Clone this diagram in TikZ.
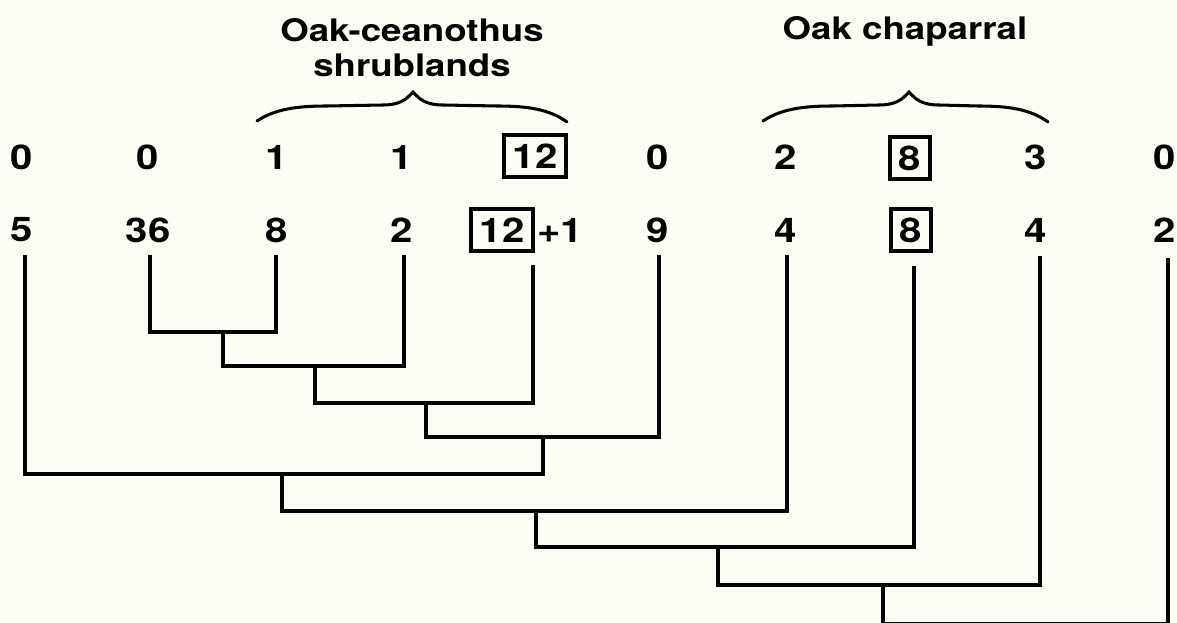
\documentclass[tikz,border=0pt]{standalone}
\usepackage{fontspec}
\setmainfont[FakeStretch=1.18]{TeX Gyre Heros}
\usetikzlibrary{positioning}

\definecolor{paper}{RGB}{253,253,246}

\tikzset{
  lbl/.style={font=\bfseries\fontsize{29}{34}\selectfont,inner sep=0pt},
  boxed/.style={lbl,draw,line width=3pt,inner sep=7.5pt},
  ttl/.style={font=\bfseries\fontsize{26.5}{30}\selectfont,align=center},
  tree/.style={line width=3.4pt},
  brc/.style={line width=2.6pt,line cap=round},
}

\begin{document}
\begin{tikzpicture}[x=0.03cm,y=-0.03cm]
  \fill[paper] (0,0) rectangle (1177,623);
  \useasboundingbox (0,0) rectangle (1177,623);
  % group labels and braces
  \node[ttl] (oc) at (412,48) {Oak-ceanothus\\shrublands};
  \node[ttl] (ch) at (905,31) {Oak chaparral};
  \foreach \a/\m/\b in {257/413/567,763/909/1048}{
    \draw[brc] (\a,121) .. controls (\a+18,109) and (\a+40,106) .. (\a+70,106)
      -- (\m-30,105) .. controls (\m-14,105) and (\m-7,100) .. (\m,92)
      .. controls (\m+7,100) and (\m+14,105) .. (\m+30,105)
      -- (\b-70,106) .. controls (\b-40,106) and (\b-18,109) .. (\b,122);
  }
  % the two rows of counts
  \foreach \i/\x/\u/\v in {1/22/0/5,2/148/0/36,3/277/1/8,4/402/1/2,
      6/658/0/9,7/786/2/4,9/1036/3/4,10/1165/0/2}{
    \node[lbl] (a\i) at (\x,157) {\u};
    \node[lbl] (b\i) at (\x,230) {\v};
  }
  \node[boxed] (a5) at (535,156) {12};
  \node[boxed] (b5) at (502,230) {12};
  \node[lbl,right=2pt of b5] (plus) {+1};
  \node[boxed] (a8) at (910,158) {8};
  \node[boxed] (b8) at (911,230) {8};
  % tops of the stems
  \foreach \i/\x/\y in {1/25/255,2/150/255,3/276/255,4/404/255,5/533/265,
      6/659/255,7/787/255,8/914/266,9/1040/256,10/1168/258}
    \coordinate (l\i) at (\x,\y);
  % joins
  \coordinate (m1) at (223,332);
  \coordinate (m2) at (315,366);
  \coordinate (m3) at (426,403);
  \coordinate (m4) at (543,437);
  \coordinate (m5) at (282,474);
  \coordinate (m6) at (536,511);
  \coordinate (m7) at (718,547);
  \coordinate (m8) at (883,585);
  \coordinate (m9) at (1000,624);
  \draw[tree] (l2) |- (m1) -| (l3);
  \draw[tree] (m1) |- (m2) -| (l4);
  \draw[tree] (m2) |- (m3) -| (l5);
  \draw[tree] (m3) |- (m4) -| (l6);
  \draw[tree] (l1) |- (m5) -| (m4);
  \draw[tree] (m5) |- (m6) -| (l7);
  \draw[tree] (m6) |- (m7) -| (l8);
  \draw[tree] (m7) |- (m8) -| (l9);
  \draw[tree] (m8) |- (m9) -| (l10);
\end{tikzpicture}
\end{document}
